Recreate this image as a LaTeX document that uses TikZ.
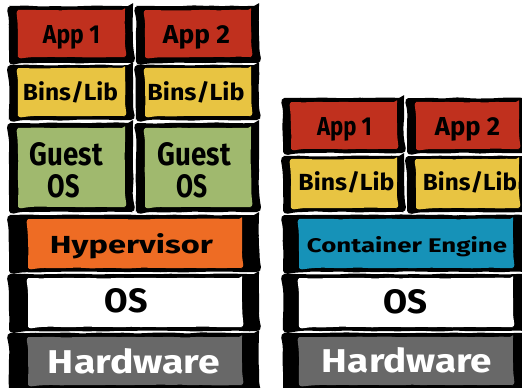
\documentclass[tikz,border=0pt]{standalone}
\usepackage{graphicx}
\usepackage{fontspec}
\setmainfont{Fira Sans}
\usetikzlibrary{fit,decorations.pathmorphing}

\definecolor{appred}{RGB}{192,48,30}
\definecolor{libyellow}{RGB}{232,196,66}
\definecolor{osgreen}{RGB}{160,185,110}
\definecolor{hyporange}{RGB}{238,108,36}
\definecolor{engblue}{RGB}{22,146,184}
\definecolor{hwgrey}{RGB}{104,104,104}

% text squeezed to a given width and cap height (in pt)
\newcommand\fitlabel[3]{\resizebox{#1pt}{#2pt}{#3}}

% one layer: black sketchy frame plus a coloured panel inside it
% #1 name, #2/#3 frame corners, #4/#5 panel corners, #6 panel colour
\newcommand\layer[6]{%
  \node[frame, fit={(#2) (#3)}] (#1-frame) {};
  \node[panel, fill=#6, fit={(#4) (#5)}] (#1) {};
}

\begin{document}
\pgfmathsetseed{11}
\begin{tikzpicture}[x=1pt,y=-1pt,
  frame/.style={fill=black, inner sep=0pt, rounded corners=5pt, decorate,
    decoration={random steps,segment length=8pt,amplitude=0.6pt}},
  panel/.style={inner sep=0pt, rounded corners=3pt, decorate,
    decoration={random steps,segment length=10pt,amplitude=0.4pt}},
  lbl/.style={anchor=base, inner sep=0pt, font=\bfseries, text=black},
  lblw/.style={lbl, text=white}]
\useasboundingbox (0,0) rectangle (522,388);
\clip (0,0) rectangle (522,388);

% ---- virtual machines ----
\layer{lapp1}{9,6}{133,63}{18,10}{125,57}{appred}
\layer{lapp2}{136,6}{259,63}{145,10}{251,57}{appred}
\layer{lbin1}{9,65}{133,120}{18,68}{125,116}{libyellow}
\layer{lbin2}{136,65}{259,120}{145,68}{251,116}{libyellow}
\layer{lgos1}{9,123}{133,212}{18,128}{125,207}{osgreen}
\layer{lgos2}{136,123}{259,212}{145,128}{251,207}{osgreen}
\layer{lhyp}{9,215}{259,272}{28,219}{242,268}{hyporange}
\layer{los}{9,274}{259,331}{28,278}{242,327}{white}
\layer{lhw}{9,333}{259,394}{28,337}{242,385}{hwgrey}

\node[lbl] (lapp1-t) at (71.5,43) {\fitlabel{57}{18}{App 1}};
\node[lbl] (lapp2-t) at (196.5,43) {\fitlabel{67}{18}{App 2}};
\node[lbl] (lbin1-t) at (70.5,100) {\fitlabel{95}{19}{Bins/Lib}};
\node[lbl] (lbin2-t) at (196,100) {\fitlabel{97}{19}{Bins/Lib}};
\node[lbl] (lgos1-a) at (66.5,165) {\fitlabel{73}{23}{Guest}};
\node[lbl] (lgos1-b) at (64,197) {\fitlabel{32}{23}{OS}};
\node[lbl] (lgos2-a) at (194.5,165) {\fitlabel{73}{23}{Guest}};
\node[lbl] (lgos2-b) at (192,197) {\fitlabel{31}{23}{OS}};
\node[lbl] (lhyp-t) at (131.5,253) {\fitlabel{163}{20}{Hypervisor}};
\node[lbl] (los-t) at (126.5,312) {\fitlabel{43}{24}{OS}};
\node[lblw] (lhw-t) at (134,373) {\fitlabel{172}{25}{Hardware}};

% ---- containers ----
\layer{rapp1}{283,98}{404,153}{291,102}{397,149}{appred}
\layer{rapp2}{407,98}{530,153}{416,102}{519,149}{appred}
\layer{rbin1}{283,156}{404,212}{291,159}{397,208}{libyellow}
\layer{rbin2}{407,156}{530,212}{416,159}{519,208}{libyellow}
\layer{rce}{283,215}{530,272}{299,219}{513,268}{engblue}
\layer{ros}{283,274}{530,331}{299,278}{513,327}{white}
\layer{rhw}{283,333}{530,394}{299,337}{513,385}{hwgrey}

\node[lbl] (rapp1-t) at (344.5,135) {\fitlabel{55}{18}{App 1}};
\node[lbl] (rapp2-t) at (467.5,135) {\fitlabel{65}{18}{App 2}};
\node[lbl] (rbin1-t) at (346.5,190) {\fitlabel{96}{19}{Bins/Lib}};
\node[lbl] (rbin2-t) at (470,190) {\fitlabel{94}{19}{Bins/Lib}};
\node[lbl] (rce-t) at (407,252) {\fitlabel{200}{16}{Container Engine}};
\node[lbl] (ros-t) at (405,313) {\fitlabel{44}{24}{OS}};
\node[lblw] (rhw-t) at (407,372) {\fitlabel{170}{25}{Hardware}};
\end{tikzpicture}
\end{document}
